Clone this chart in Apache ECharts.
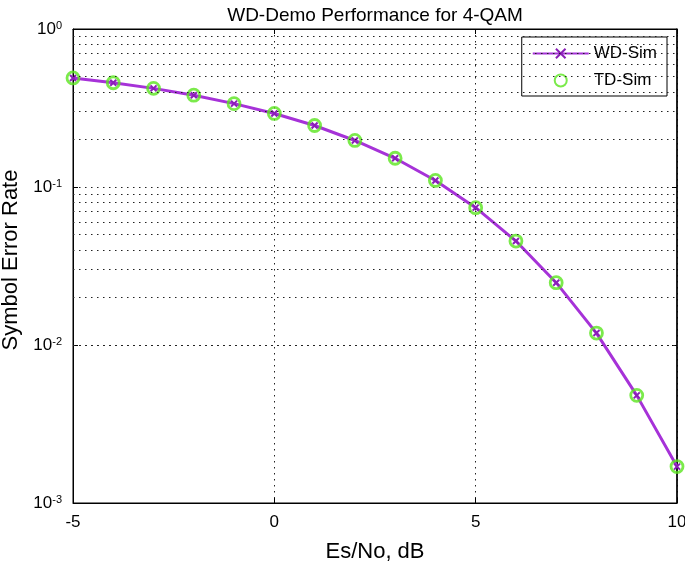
<!DOCTYPE html>
<html>
<head>
<meta charset="utf-8">
<script src="https://cdn.jsdelivr.net/npm/echarts@6/dist/echarts.min.js"></script>
<style>html,body{margin:0;padding:0;background:#fff;overflow:hidden}#c{width:685px;height:562px}</style>
</head>
<body>
<div id="c"></div>
<script>
const esNo = [-5,-4,-3,-2,-1,0,1,2,3,4,5,6,7,8,9,10];
const wdSim = [0.49,0.457,0.421,0.381,0.337,0.292,0.245,0.197,0.152,0.110,0.074,0.0455,0.0248,0.0119,0.0048,0.0017];
const tdSim = [0.49,0.457,0.421,0.381,0.337,0.292,0.245,0.197,0.152,0.110,0.074,0.0455,0.0248,0.0119,0.0048,0.0017];
const xTicks = [-5,0,5,10];
const yDecades = [0.001,0.01,0.1,1];
const yMinorGrid = [0.002,0.003,0.004,0.005,0.006,0.007,0.008,0.009,
                    0.02,0.03,0.04,0.05,0.06,0.07,0.08,0.09,
                    0.2,0.3,0.4,0.5,0.6,0.7,0.8,0.9];

const FONT = 'Liberation Sans, Arial, sans-serif';
const dotted = {color:'#222', width:1, type:[1.5,4.5]};
const chart = echarts.init(document.getElementById('c'), null, {renderer:'canvas'});
const xPath = 'path://M0,0 L10,10 M10,0 L0,10';

chart.setOption({
  animation:false,
  backgroundColor:'#fff',
  title:{text:'WD-Demo Performance for 4-QAM', left:370, textAlign:'center', top:1,
    textStyle:{fontFamily:FONT, fontSize:19, fontWeight:'normal', color:'#000'}},
  grid:{left:73, right:8, top:29, bottom:59, containLabel:false, outerBoundsMode:'none',
    show:true, borderColor:'#000', borderWidth:1, backgroundColor:'transparent'},
  legend:{orient:'vertical', right:18, top:37, backgroundColor:'#fff', borderColor:'#000', borderWidth:1,
    padding:[8,10,7,10], itemGap:10, itemWidth:56, itemHeight:12,
    textStyle:{fontFamily:FONT, fontSize:17, color:'#000'},
    data:['WD-Sim','TD-Sim']},
  xAxis:[{type:'value', min:-5, max:10, interval:5, position:'bottom',
    name:'Es/No, dB', nameLocation:'middle', nameGap:38,
    nameTextStyle:{fontFamily:FONT, fontSize:22, color:'#000'},
    axisLine:{onZero:false, lineStyle:{color:'#000', width:1}},
    axisTick:{inside:true, length:5, lineStyle:{color:'#000'}},
    axisLabel:{fontFamily:FONT, fontSize:17, color:'#000', margin:11},
    splitLine:{show:true, lineStyle:dotted}},
   {type:'value', min:-5, max:10, interval:5, position:'top',
    axisLine:{show:true, onZero:false, lineStyle:{color:'#000', width:1}},
    axisTick:{inside:true, length:5, lineStyle:{color:'#000'}},
    axisLabel:{show:false}, splitLine:{show:false}}],
  yAxis:[{type:'log', logBase:10, min:0.001, max:1, position:'left',
    name:'Symbol Error Rate', nameLocation:'middle', nameGap:50,
    nameTextStyle:{fontFamily:FONT, fontSize:22, color:'#000', padding:[0,0,0,12]},
    axisLine:{show:true, onZero:false, lineStyle:{color:'#000', width:1}},
    axisTick:{show:true, inside:true, length:5, lineStyle:{color:'#000'}},
    axisLabel:{margin:11, formatter:function(v){
        const e = Math.round(Math.log10(v));
        return '{b|10}{s|' + e + '}';
      },
      rich:{b:{fontFamily:FONT, fontSize:17, lineHeight:17, color:'#000', verticalAlign:'bottom', padding:[8,0,0,0]},
            s:{fontFamily:FONT, fontSize:11, lineHeight:11, color:'#000', verticalAlign:'top'}}},
    splitLine:{show:true, lineStyle:dotted}},
   {type:'log', logBase:10, min:0.001, max:1, position:'right',
    axisLine:{show:true, onZero:false, lineStyle:{color:'#000', width:1.5}},
    axisTick:{show:true, inside:true, length:5, lineStyle:{color:'#000'}},
    axisLabel:{show:false}, splitLine:{show:false}}],
  series:[
    {type:'line', name:'gridMinor', data:[], xAxisIndex:0, yAxisIndex:0, silent:true,
     markLine:{silent:true, symbol:'none', label:{show:false}, animation:false,
       lineStyle:dotted, emphasis:{disabled:true},
       data:yMinorGrid.map(v=>({yAxis:v}))}},
    {type:'line', name:'WD-Sim', data:esNo.map((x,i)=>[x,wdSim[i]]),
     color:'#a632d8', lineStyle:{color:'#a632d8', width:3},
     symbol:xPath, symbolSize:6, showAllSymbol:true,
     itemStyle:{color:'#a632d8', borderColor:'#8a1fb8', borderWidth:2}, z:3},
    {type:'scatter', name:'TD-Sim', data:esNo.map((x,i)=>[x,tdSim[i]]),
     symbol:'circle', symbolSize:12,
     itemStyle:{color:'rgba(0,0,0,0)', borderColor:'#5ae51e', borderWidth:2.8}, z:4}
  ]
});
</script>
</body>
</html>
